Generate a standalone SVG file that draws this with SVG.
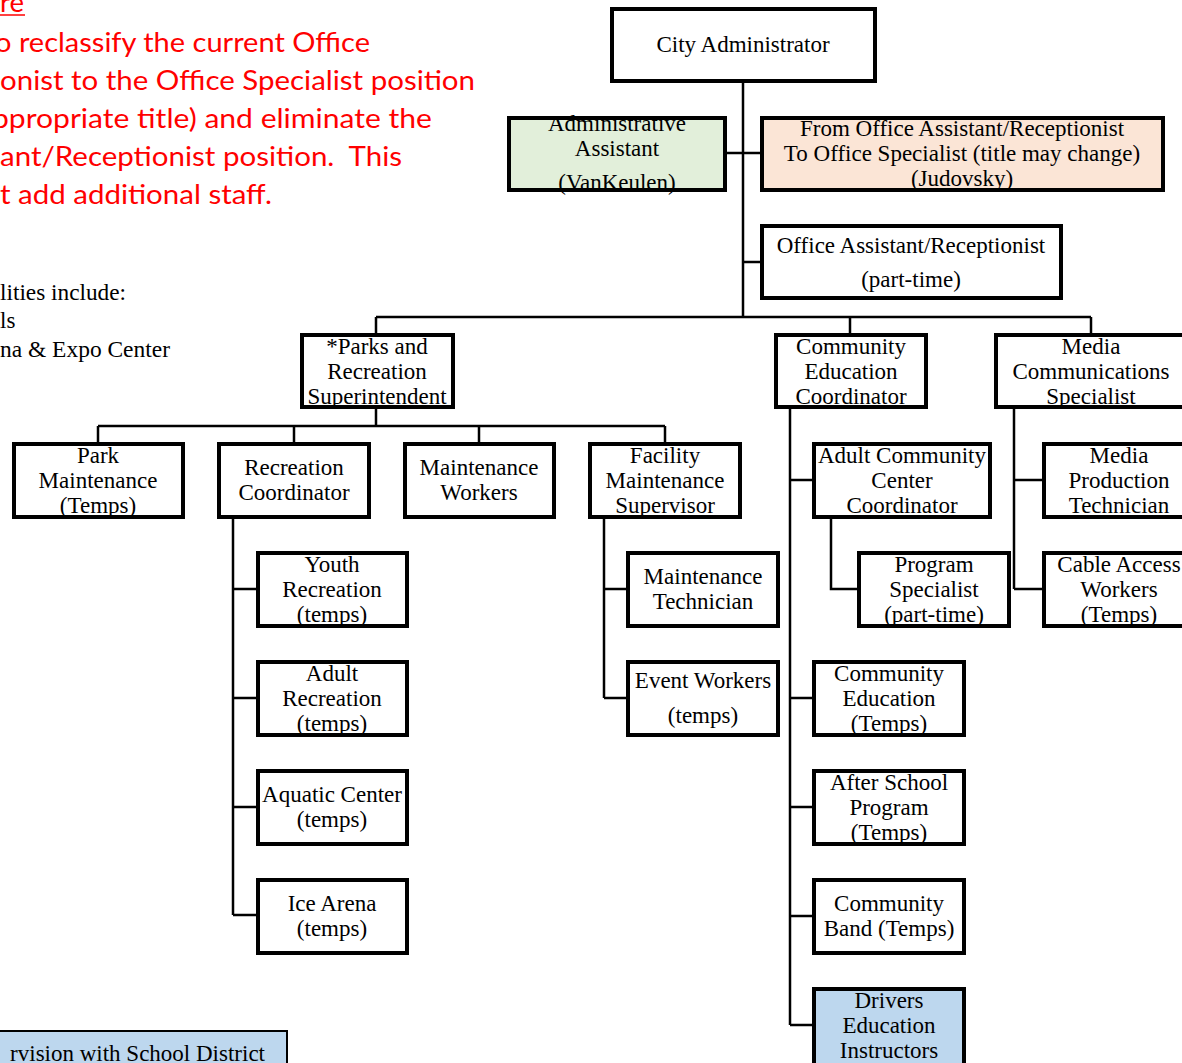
<svg xmlns="http://www.w3.org/2000/svg" width="1182" height="1063" viewBox="0 0 1182 1063">
<style>
.b{fill:#fff;stroke:#000;stroke-width:4}
.t{font-family:"Liberation Serif","Times New Roman",serif;font-size:23px;fill:#000;text-anchor:middle}
.n{font-family:"Liberation Serif","Times New Roman",serif;font-size:23px;fill:#000}
.r{font-family:Lato,"Open Sans",sans-serif;font-size:27px;fill:#ff0000;white-space:pre}
.c{fill:none;stroke:#000;stroke-width:2.5}
</style>
<rect width="1182" height="1063" fill="#fff"/>
<g id="note">
<text class="r" x="0" y="12" textLength="24" lengthAdjust="spacingAndGlyphs">re</text>
<line x1="0" y1="15" x2="25" y2="15" stroke="#ff0000" stroke-width="1.5"/>
<text class="r" x="-5" y="52" textLength="375" lengthAdjust="spacingAndGlyphs">o reclassify the current Office</text>
<text class="r" x="0" y="90" textLength="475" lengthAdjust="spacingAndGlyphs">onist to the Office Specialist position</text>
<text class="r" x="-8" y="128" textLength="440" lengthAdjust="spacingAndGlyphs">ppropriate title) and eliminate the</text>
<text class="r" x="0" y="166" textLength="402" lengthAdjust="spacingAndGlyphs">ant/Receptionist position.  This</text>
<text class="r" x="0" y="204" textLength="272" lengthAdjust="spacingAndGlyphs">t add additional staff.</text>
</g>
<g id="facilities">
<text class="n" x="0" y="300" textLength="126" lengthAdjust="spacingAndGlyphs">lities include:</text>
<text class="n" x="0" y="328">ls</text>
<text class="n" x="0" y="357" textLength="170" lengthAdjust="spacingAndGlyphs">na &amp; Expo Center</text>
</g>
<g id="school-district">
<rect x="-10" y="1031" width="297" height="50" fill="#bdd7ee" stroke="#000" stroke-width="2"/>
<text class="n" x="265" y="1061" text-anchor="end">rvision with School District</text>
</g>
<g id="connectors">
<path class="c" d="M743 83V317M727 153H760M743 262H760M376 317H1091M376 317V333M850 317V333M1091 317V333"/>
<path class="c" d="M376 409V426M98 426H665M98 426V442M294 426V442M479 426V442M665 426V442"/>
<path class="c" d="M233 519V915M233 589H256M233 698H256M233 807H256M233 915H256"/>
<path class="c" d="M604 519V698M604 589H626M604 698H626"/>
<path class="c" d="M790 409V1025M790 480H812M790 698H812M790 807H812M790 916H812M790 1025H812"/>
<path class="c" d="M831 519V589H857"/>
<path class="c" d="M1014 409V589M1014 480H1042M1014 589H1042"/>
</g>
<g id="city-administrator"><rect class="b" x="612" y="9" width="263" height="72"/><text class="t" x="743" y="52">City Administrator</text></g>
<g id="administrative-assistant"><rect class="b" x="509" y="118" width="216" height="72" style="fill:#e2efda"/><text class="t" x="617"><tspan x="617" y="131">Administrative</tspan><tspan x="617" y="156">Assistant</tspan><tspan x="617" y="190">(VanKeulen)</tspan></text><rect x="509" y="118" width="216" height="72" fill="none" stroke="#000" stroke-width="4"/></g>
<g id="office-specialist"><rect class="b" x="762" y="118" width="401" height="72" style="fill:#fbe5d6"/><text class="t"><tspan x="962" y="136">From Office Assistant/Receptionist</tspan><tspan x="962" y="161">To Office Specialist (title may change)</tspan><tspan x="962" y="186">(Judovsky)</tspan></text></g>
<g id="office-assistant"><rect class="b" x="762" y="226" width="299" height="72"/><text class="t"><tspan x="911" y="253">Office Assistant/Receptionist</tspan><tspan x="911" y="287">(part-time)</tspan></text></g>
<g id="parks-superintendent"><rect class="b" x="302" y="335" width="151" height="72"/><text class="t"><tspan x="377" y="354">*Parks and</tspan><tspan x="377" y="379">Recreation</tspan><tspan x="377" y="404">Superintendent</tspan></text></g>
<g id="community-education-coordinator"><rect class="b" x="776" y="335" width="150" height="72"/><text class="t"><tspan x="851" y="354">Community</tspan><tspan x="851" y="379">Education</tspan><tspan x="851" y="404">Coordinator</tspan></text></g>
<g id="media-communications-specialist"><rect class="b" x="996" y="335" width="190" height="72"/><text class="t"><tspan x="1091" y="354">Media</tspan><tspan x="1091" y="379">Communications</tspan><tspan x="1091" y="404">Specialist</tspan></text></g>
<g id="park-maintenance"><rect class="b" x="14" y="444" width="169" height="73"/><text class="t"><tspan x="98" y="463">Park</tspan><tspan x="98" y="488">Maintenance</tspan><tspan x="98" y="513">(Temps)</tspan></text></g>
<g id="recreation-coordinator"><rect class="b" x="219" y="444" width="150" height="73"/><text class="t"><tspan x="294" y="475">Recreation</tspan><tspan x="294" y="500">Coordinator</tspan></text></g>
<g id="maintenance-workers"><rect class="b" x="405" y="444" width="149" height="73"/><text class="t"><tspan x="479" y="475">Maintenance</tspan><tspan x="479" y="500">Workers</tspan></text></g>
<g id="facility-maintenance-supervisor"><rect class="b" x="590" y="444" width="150" height="73"/><text class="t"><tspan x="665" y="463">Facility</tspan><tspan x="665" y="488">Maintenance</tspan><tspan x="665" y="513">Supervisor</tspan></text></g>
<g id="adult-community-center-coordinator"><rect class="b" x="814" y="444" width="176" height="73"/><text class="t"><tspan x="902" y="463">Adult Community</tspan><tspan x="902" y="488">Center</tspan><tspan x="902" y="513">Coordinator</tspan></text></g>
<g id="media-production-technician"><rect class="b" x="1044" y="444" width="150" height="73"/><text class="t"><tspan x="1119" y="463">Media</tspan><tspan x="1119" y="488">Production</tspan><tspan x="1119" y="513">Technician</tspan></text></g>
<g id="youth-recreation"><rect class="b" x="258" y="553" width="149" height="73"/><text class="t"><tspan x="332" y="572">Youth</tspan><tspan x="332" y="597">Recreation</tspan><tspan x="332" y="622">(temps)</tspan></text></g>
<g id="maintenance-technician"><rect class="b" x="628" y="553" width="150" height="73"/><text class="t"><tspan x="703" y="584">Maintenance</tspan><tspan x="703" y="609">Technician</tspan></text></g>
<g id="program-specialist"><rect class="b" x="859" y="553" width="150" height="73"/><text class="t"><tspan x="934" y="572">Program</tspan><tspan x="934" y="597">Specialist</tspan><tspan x="934" y="622">(part-time)</tspan></text></g>
<g id="cable-access-workers"><rect class="b" x="1044" y="553" width="150" height="73"/><text class="t"><tspan x="1119" y="572">Cable Access</tspan><tspan x="1119" y="597">Workers</tspan><tspan x="1119" y="622">(Temps)</tspan></text></g>
<g id="adult-recreation"><rect class="b" x="258" y="662" width="149" height="73"/><text class="t"><tspan x="332" y="681">Adult</tspan><tspan x="332" y="706">Recreation</tspan><tspan x="332" y="731">(temps)</tspan></text></g>
<g id="event-workers"><rect class="b" x="628" y="662" width="150" height="73"/><text class="t"><tspan x="703" y="688">Event Workers</tspan><tspan x="703" y="723">(temps)</tspan></text></g>
<g id="community-education-temps"><rect class="b" x="814" y="662" width="150" height="73"/><text class="t"><tspan x="889" y="681">Community</tspan><tspan x="889" y="706">Education</tspan><tspan x="889" y="731">(Temps)</tspan></text></g>
<g id="aquatic-center"><rect class="b" x="258" y="771" width="149" height="73"/><text class="t"><tspan x="332" y="802">Aquatic Center</tspan><tspan x="332" y="827">(temps)</tspan></text></g>
<g id="after-school-program"><rect class="b" x="814" y="771" width="150" height="73"/><text class="t"><tspan x="889" y="790">After School</tspan><tspan x="889" y="815">Program</tspan><tspan x="889" y="840">(Temps)</tspan></text></g>
<g id="ice-arena"><rect class="b" x="258" y="880" width="149" height="73"/><text class="t"><tspan x="332" y="911">Ice Arena</tspan><tspan x="332" y="936">(temps)</tspan></text></g>
<g id="community-band"><rect class="b" x="814" y="880" width="150" height="73"/><text class="t"><tspan x="889" y="911">Community</tspan><tspan x="889" y="936">Band (Temps)</tspan></text></g>
<g id="drivers-education"><rect class="b" x="814" y="989" width="150" height="80" style="fill:#bdd7ee"/><text class="t"><tspan x="889" y="1008">Drivers</tspan><tspan x="889" y="1033">Education</tspan><tspan x="889" y="1058">Instructors</tspan></text></g>
</svg>
